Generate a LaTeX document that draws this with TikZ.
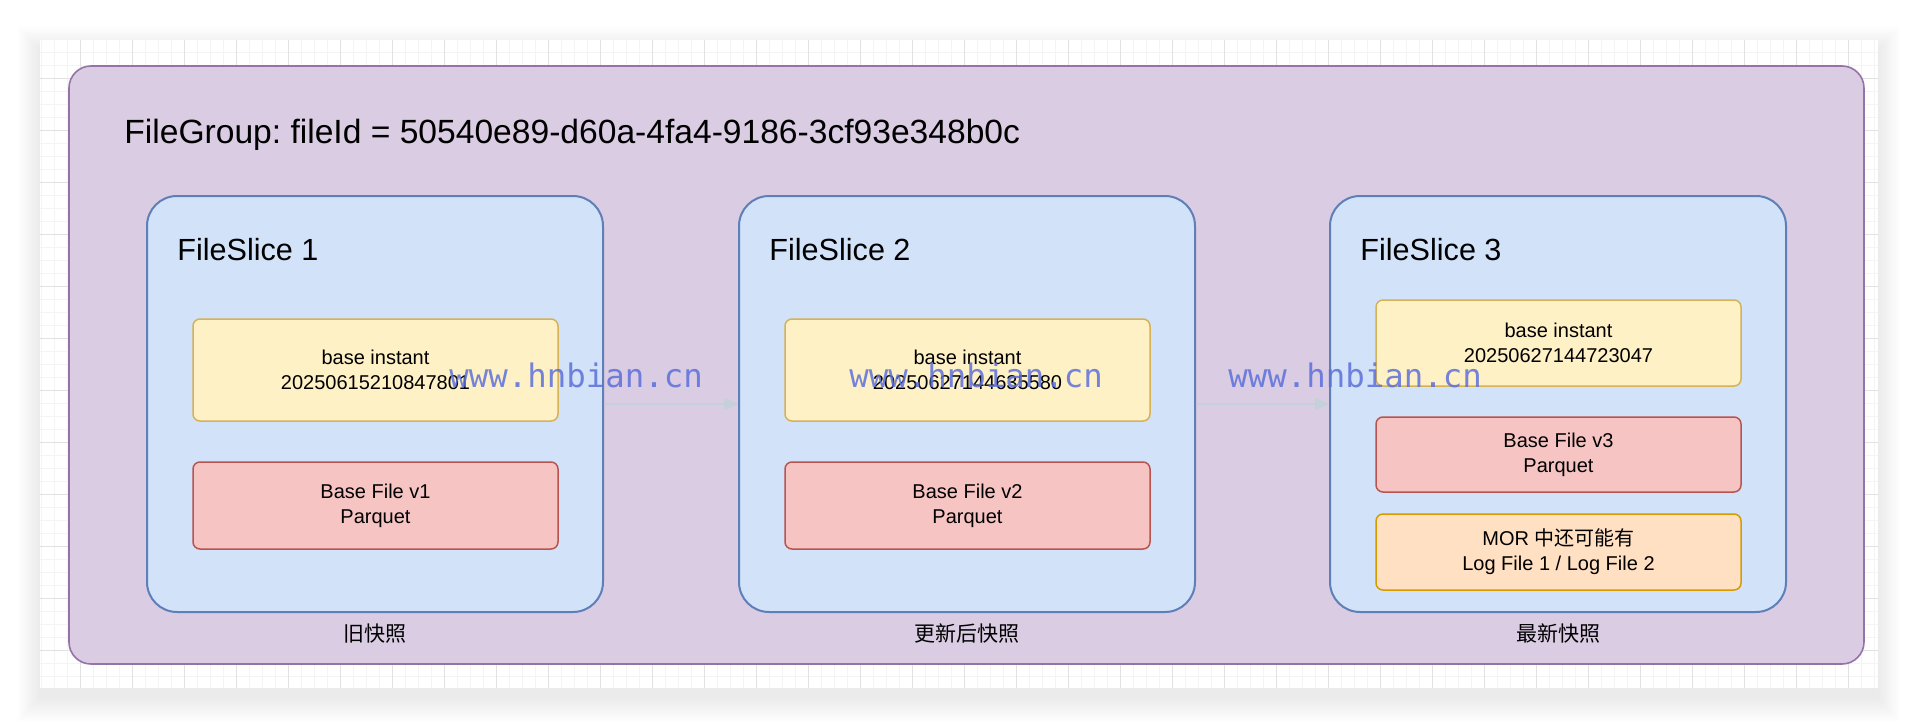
\documentclass[tikz,border=0pt]{standalone}
\usepackage{fontspec}
\setmainfont{Liberation Sans}
\newfontfamily\cjk{Noto Sans CJK SC}
\newfontfamily\wmfont{DejaVu Sans Mono}
\usetikzlibrary{arrows.meta}
\frenchspacing

\tikzset{
  group/.style={draw={rgb, 255:red, 150; green, 115; blue, 166 }, fill={rgb, 255:red, 218; green, 204; blue, 227 }, line width=0.8pt, rounded corners=11pt, minimum width=897.5pt, minimum height=299pt},
  slice/.style={draw={rgb, 255:red, 95; green, 127; blue, 184 }, fill={rgb, 255:red, 209; green, 226; blue, 249 }, line width=1pt, rounded corners=15pt, minimum width=228pt, minimum height=208pt},
  inbox/.style={line width=0.75pt, rounded corners=3.5pt, minimum width=182.5pt, align=center, font=\fontsize{10pt}{12.5pt}\selectfont},
  instantbox/.style={inbox, draw={rgb, 255:red, 214; green, 178; blue, 86 }, fill={rgb, 255:red, 255; green, 241; blue, 198 }},
  basefile/.style={inbox, draw={rgb, 255:red, 184; green, 84; blue, 80 }, fill={rgb, 255:red, 246; green, 196; blue, 195 }},
  logfile/.style={inbox, draw={rgb, 255:red, 215; green, 155; blue, 0 }, fill={rgb, 255:red, 255; green, 224; blue, 194 }},
  slicetitle/.style={anchor=base west, inner sep=0pt, font=\fontsize{15.3pt}{18pt}\selectfont},
  snaplabel/.style={font=\cjk\fontsize{10.5pt}{12.5pt}\selectfont},
  flow/.style={draw={rgb, 255:red, 196; green, 208; blue, 218 }, line width=1pt, -{Triangle[length=7pt,width=6pt]}},
  watermark/.style={anchor=base west, text={rgb, 255:red, 92; green, 112; blue, 218 }, text opacity=0.85, font=\wmfont\fontsize{16.2pt}{19pt}\selectfont, inner sep=0pt}
}

\begin{document}
\begin{tikzpicture}[x=0.5pt,y=0.5pt,yscale=-1,xscale=1]
\useasboundingbox (0,0) rectangle (1918,728);

%Shadow of the canvas
\foreach \i in {1,...,20}
  \fill [black, opacity=0.0035] (40-1.1*\i,50-1.2*\i) rectangle (1878+1.1*\i,698+1.2*\i);
%Canvas with grid
\fill [white] (40,40) rectangle (1878,688);
\begin{scope}
\clip (40,40) rectangle (1878,688);
\foreach \x in {41.3,54.3,...,1878} \draw [color={rgb, 255:red, 244; green, 244; blue, 244 }, line width=0.5pt] (\x,40) -- (\x,688);
\foreach \y in {52.7,65.7,...,688} \draw [color={rgb, 255:red, 244; green, 244; blue, 244 }, line width=0.5pt] (40,\y) -- (1878,\y);
\foreach \x in {80.3,132.3,...,1878} \draw [color={rgb, 255:red, 226; green, 226; blue, 226 }, line width=0.5pt] (\x,40) -- (\x,688);
\foreach \y in {78.7,130.7,...,688} \draw [color={rgb, 255:red, 226; green, 226; blue, 226 }, line width=0.5pt] (40,\y) -- (1878,\y);
\end{scope}

%Shape: FileGroup
\node [group] (grp) at (966.5,365) {};
% Text Node
\node [anchor=base west, inner sep=0pt, font=\fontsize{16.8pt}{20pt}\selectfont] (grptitle) at (124,143) {FileGroup: fileId = 50540e89-d60a-4fa4-9186-3cf93e348b0c};

%Shape: FileSlice 1
\node [slice] (fs1) at (375,404) {};
\node [slicetitle] (fs1title) at (177,260) {FileSlice 1};
\node [instantbox, minimum height=51pt] (inst1) at (375.5,370) {base instant\\20250615210847801};
\node [basefile, minimum height=43.5pt] (base1) at (375.5,505.5) {Base File v1\\Parquet};

%Shape: FileSlice 2
\node [slice] (fs2) at (967,404) {};
\node [slicetitle] (fs2title) at (769,260) {FileSlice 2};
\node [instantbox, minimum height=51pt] (inst2) at (967.5,370) {base instant\\20250627144635580};
\node [basefile, minimum height=43.5pt] (base2) at (967.5,505.5) {Base File v2\\Parquet};

%Shape: FileSlice 3
\node [slice] (fs3) at (1558,404) {};
\node [slicetitle] (fs3title) at (1360,260) {FileSlice 3};
\node [instantbox, minimum height=43pt] (inst3) at (1558.5,343) {base instant\\20250627144723047};
\node [basefile, minimum height=37.5pt] (base3) at (1558.5,454.5) {Base File v3\\Parquet};
\node [logfile, minimum height=38pt] (log3) at (1558.5,552) {MOR {\cjk 中还可能有}\\Log File 1 / Log File 2};

%Straight Lines
\draw [flow] (fs1) -- (fs2);
\draw [flow] (fs2) -- (fs3);

% Text Node
\node [snaplabel] (snap1) at (375,634) {旧快照};
% Text Node
\node [snaplabel] (snap2) at (967,634) {更新后快照};
% Text Node
\node [snaplabel] (snap3) at (1558,634) {最新快照};

% Watermarks
\node [watermark] (wm1) at (449,387) {www.hnbian.cn};
\node [watermark] (wm2) at (849,387) {www.hnbian.cn};
\node [watermark] (wm3) at (1228,387) {www.hnbian.cn};
\end{tikzpicture}
\end{document}
